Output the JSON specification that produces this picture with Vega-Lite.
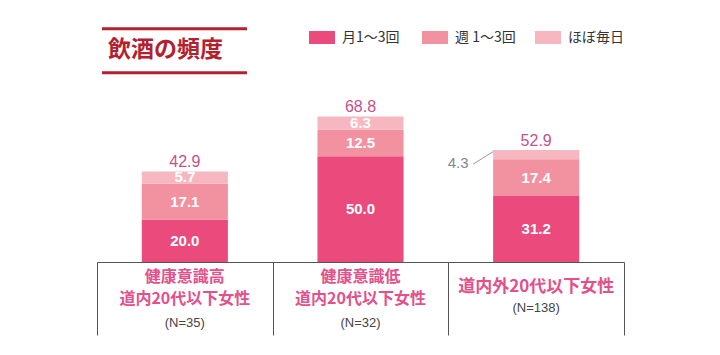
{
  "$schema": "https://vega.github.io/schema/vega-lite/v6.json",
  "autosize": "none",
  "width": 720,
  "height": 172,
  "padding": {"left": 0, "top": 90, "right": 0, "bottom": 93},
  "background": "white",
  "datasets": {
    "freq": [
      {"cat": "健康意識高", "freq": "月1〜3回", "rank": 1, "value": 20.0},
      {"cat": "健康意識高", "freq": "週 1〜3回", "rank": 2, "value": 17.1},
      {"cat": "健康意識高", "freq": "ほぼ毎日", "rank": 3, "value": 5.7},
      {"cat": "健康意識低", "freq": "月1〜3回", "rank": 1, "value": 50.0},
      {"cat": "健康意識低", "freq": "週 1〜3回", "rank": 2, "value": 12.5},
      {"cat": "健康意識低", "freq": "ほぼ毎日", "rank": 3, "value": 6.3},
      {"cat": "道内外", "freq": "月1〜3回", "rank": 1, "value": 31.2},
      {"cat": "道内外", "freq": "週 1〜3回", "rank": 2, "value": 17.4},
      {"cat": "道内外", "freq": "ほぼ毎日", "rank": 3, "value": 4.3}
    ],
    "totals": [
      {"cat": "健康意識高", "total": 42.9},
      {"cat": "健康意識低", "total": 68.8},
      {"cat": "道内外", "total": 52.9}
    ],
    "cats": [
      {"cat": "健康意識高", "head": "健康意識高", "sub": "道内20代以下女性", "n": "(N=35)"},
      {"cat": "健康意識低", "head": "健康意識低", "sub": "道内20代以下女性", "n": "(N=32)"},
      {"cat": "道内外", "head": null, "sub": "道内外20代以下女性", "n": "(N=138)"}
    ]
  },
  "layer": [
    {
      "data": {"name": "freq"},
      "transform": [
        {"stack": "value", "groupby": ["cat"], "sort": [{"field": "rank", "order": "ascending"}], "as": ["v0", "v1"]},
        {"calculate": "(datum.v0 + datum.v1) / 2", "as": "mid"}
      ],
      "layer": [
        {
          "mark": {"type": "bar", "width": {"band": 0.49}},
          "encoding": {
            "x": {"field": "cat", "type": "nominal", "sort": null,
                  "scale": {"domain": ["健康意識高", "健康意識低", "道内外"], "range": [97, 624], "paddingInner": 0, "paddingOuter": 0}},
            "y": {"field": "v0", "type": "quantitative", "scale": {"domain": [0, 81.3], "nice": false, "zero": true}},
            "y2": {"field": "v1"},
            "color": {
              "field": "freq", "type": "nominal",
              "scale": {"domain": ["月1〜3回", "週 1〜3回", "ほぼ毎日"], "range": ["#ea4a7c", "#f2919f", "#f7b7c0"]},
              "legend": {
                "orient": "none", "legendX": 309, "legendY": -65.5, "direction": "horizontal",
                "title": null, "symbolType": "M-1,-0.5H1V0.5H-1Z", "symbolSize": 676, "symbolStrokeWidth": 0,
                "symbolOpacity": 1,
                "labelFont": "Noto Sans CJK JP", "labelFontSize": 14, "labelColor": "#333333",
                "labelOffset": 7, "columnPadding": 19, "gridAlign": "all"
              }
            }
          }
        },
        {
          "transform": [{"filter": "datum.value >= 5"}],
          "mark": {"type": "text", "color": "white", "fontWeight": "bold", "fontSize": 15, "font": "Liberation Sans", "baseline": "middle"},
          "encoding": {
            "x": {"field": "cat", "type": "nominal"},
            "y": {"field": "mid", "type": "quantitative"},
            "text": {"field": "value", "type": "quantitative", "format": ".1f"}
          }
        },
        {
          "transform": [{"filter": "datum.value < 5"}],
          "mark": {"type": "text", "color": "#888888", "fontSize": 15, "font": "Liberation Sans", "baseline": "middle", "dx": -78, "dy": 8},
          "encoding": {
            "x": {"field": "cat", "type": "nominal"},
            "y": {"field": "mid", "type": "quantitative"},
            "text": {"field": "value", "type": "quantitative", "format": ".1f"}
          }
        },
        {
          "transform": [{"filter": "datum.value < 5"}],
          "mark": {"type": "rule", "color": "#999999", "strokeWidth": 1, "xOffset": -63, "x2Offset": -43, "yOffset": 5, "y2Offset": 1.5},
          "encoding": {
            "x": {"field": "cat", "type": "nominal"},
            "x2": {"field": "cat"},
            "y": {"field": "v0", "type": "quantitative"},
            "y2": {"field": "v1"}
          }
        }
      ]
    },
    {
      "data": {"name": "totals"},
      "mark": {"type": "text", "color": "#c4528a", "fontSize": 16, "font": "Liberation Sans", "baseline": "middle", "dy": -9},
      "encoding": {
        "x": {"field": "cat", "type": "nominal"},
        "y": {"field": "total", "type": "quantitative"},
        "text": {"field": "total", "type": "quantitative", "format": ".1f"}
      }
    },
    {
      "data": {"name": "cats"},
      "transform": [{"filter": "datum.head != null"}],
      "layer": [
        {
          "mark": {"type": "text", "color": "#e4508a", "fontSize": 16, "fontWeight": "bold", "font": "Noto Sans CJK JP", "baseline": "middle", "dy": 15},
          "encoding": {"x": {"field": "cat", "type": "nominal"}, "y": {"datum": 0}, "text": {"field": "head"}}
        },
        {
          "mark": {"type": "text", "color": "#e4508a", "fontSize": 16, "fontWeight": "bold", "font": "Noto Sans CJK JP", "baseline": "middle", "dy": 37},
          "encoding": {"x": {"field": "cat", "type": "nominal"}, "y": {"datum": 0}, "text": {"field": "sub"}}
        },
        {
          "mark": {"type": "text", "color": "#444444", "fontSize": 13, "font": "Liberation Sans", "baseline": "middle", "dy": 61},
          "encoding": {"x": {"field": "cat", "type": "nominal"}, "y": {"datum": 0}, "text": {"field": "n"}}
        }
      ]
    },
    {
      "data": {"name": "cats"},
      "transform": [{"filter": "datum.head == null"}],
      "layer": [
        {
          "mark": {"type": "text", "color": "#e4508a", "fontSize": 17, "fontWeight": "bold", "font": "Noto Sans CJK JP", "baseline": "middle", "dy": 25},
          "encoding": {"x": {"field": "cat", "type": "nominal"}, "y": {"datum": 0}, "text": {"field": "sub"}}
        },
        {
          "mark": {"type": "text", "color": "#444444", "fontSize": 13, "font": "Liberation Sans", "baseline": "middle", "dy": 46},
          "encoding": {"x": {"field": "cat", "type": "nominal"}, "y": {"datum": 0}, "text": {"field": "n"}}
        }
      ]
    },
    {
      "data": {"values": [{"title": "飲酒の頻度"}]},
      "layer": [
        {
          "mark": {"type": "rule", "color": "#b3202e", "strokeWidth": 3, "xOffset": 5, "x2Offset": 150},
          "encoding": {
            "x": {"datum": "健康意識高", "type": "nominal", "bandPosition": 0},
            "x2": {"datum": "健康意識高", "bandPosition": 0},
            "y": {"datum": 110.2, "type": "quantitative"}
          }
        },
        {
          "mark": {"type": "rule", "color": "#b3202e", "strokeWidth": 3, "xOffset": 5, "x2Offset": 150},
          "encoding": {
            "x": {"datum": "健康意識高", "type": "nominal", "bandPosition": 0},
            "x2": {"datum": "健康意識高", "bandPosition": 0},
            "y": {"datum": 89.4, "type": "quantitative"}
          }
        },
        {
          "mark": {"type": "text", "color": "#b3202e", "fontSize": 23, "fontWeight": "bold", "font": "Noto Sans CJK JP", "align": "left", "baseline": "middle", "dx": 11},
          "encoding": {
            "x": {"datum": "健康意識高", "type": "nominal", "bandPosition": 0},
            "y": {"datum": 100.2, "type": "quantitative"},
            "text": {"field": "title"}
          }
        }
      ]
    }
  ],
  "config": {
    "view": {"stroke": null},
    "axisX": {"title": null, "labels": false, "domainColor": "#555555", "tickBand": "extent", "tickSize": 73, "tickColor": "#555555", "grid": false},
    "axisY": {"disable": true}
  }
}
